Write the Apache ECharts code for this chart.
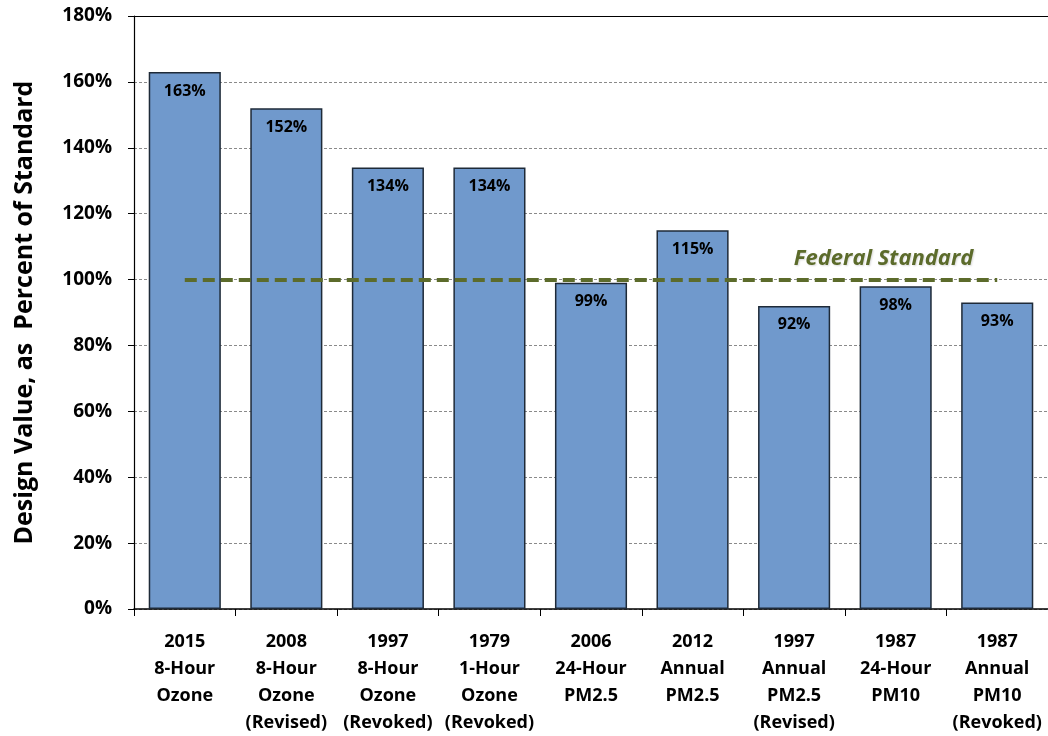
<!DOCTYPE html>
<html>
<head>
<meta charset="utf-8">
<script src="https://cdn.jsdelivr.net/npm/echarts@6/dist/echarts.min.js"></script>
<style>html,body{margin:0;padding:0;background:#fff}#c{width:1048px;height:736px}</style>
</head>
<body>
<div id="c"></div>
<script>
const categories = [
  "2015\n8-Hour\nOzone",
  "2008\n8-Hour\nOzone\n(Revised)",
  "1997\n8-Hour\nOzone\n(Revoked)",
  "1979\n1-Hour\nOzone\n(Revoked)",
  "2006\n24-Hour\nPM2.5",
  "2012\nAnnual\nPM2.5",
  "1997\nAnnual\nPM2.5\n(Revised)",
  "1987\n24-Hour\nPM10",
  "1987\nAnnual\nPM10\n(Revoked)"
];
const values = [163, 152, 134, 134, 99, 115, 92, 98, 93];
const standardValue = 100;
const standardLabel = "Federal Standard";
const yTitle = "Design Value, as  Percent of Standard";

const font = "'Open Sans', 'Liberation Sans', sans-serif";
const chart = echarts.init(document.getElementById('c'));
chart.setOption({
  animation: false,
  grid: { left: 134, right: -1, top: 16, bottom: 126 },
  xAxis: [{
    type: 'category',
    data: categories,
    axisLine: { lineStyle: { color: '#000', width: 1.5 } },
    axisTick: { show: true, length: 7, lineStyle: { color: '#000', width: 1 } },
    axisLabel: { color: '#000', fontFamily: font, fontWeight: 'bold', fontSize: 18, lineHeight: 27, margin: 19, interval: 0 }
  }, {
    type: 'category',
    position: 'top',
    data: categories,
    axisLine: { show: true, lineStyle: { color: '#000', width: 1.2 } },
    axisTick: { show: false },
    axisLabel: { show: false }
  }],
  yAxis: {
    type: 'value',
    min: 0, max: 180, interval: 20,
    name: yTitle,
    nameLocation: 'middle',
    nameGap: 97,
    nameTextStyle: { color: '#000', fontFamily: font, fontWeight: 'bold', fontSize: 25 },
    axisLine: { show: true, lineStyle: { color: '#000', width: 1.2 } },
    axisTick: { show: true, length: 6, lineStyle: { color: '#000' } },
    axisLabel: { formatter: '{value}%', color: '#000', fontFamily: font, fontWeight: 'bold', fontSize: 19, margin: 22 },
    splitLine: { show: true, lineStyle: { color: '#8a8a8a', type: [3, 2], width: 1 } }
  },
  series: [{
    type: 'bar',
    data: values,
    barCategoryGap: '29%',
    itemStyle: { color: '#7099cc', borderColor: '#1e2a38', borderWidth: 1.5 },
    label: {
      show: true, position: 'insideTop', distance: 11,
      formatter: '{c}%', color: '#000', fontFamily: font, fontWeight: 'bold', fontSize: 16
    },
    markLine: {
      silent: true,
      symbol: 'none',
      lineStyle: { color: '#5c6b2b', width: 4, type: [12, 6] },
      label: {
        show: true, position: 'insideEndTop', formatter: standardLabel,
        color: '#5c6b2b', fontFamily: font, fontWeight: 'bold', fontStyle: 'italic', fontSize: 22,
        textShadowColor: 'rgba(0,0,0,0.15)', textShadowBlur: 2, textShadowOffsetX: 1, textShadowOffsetY: 1,
        distance: [24, 10]
      },
      data: [[{ coord: [0, standardValue] }, { coord: [categories.length - 1, standardValue] }]]
    }
  }]
});
</script>
</body>
</html>
